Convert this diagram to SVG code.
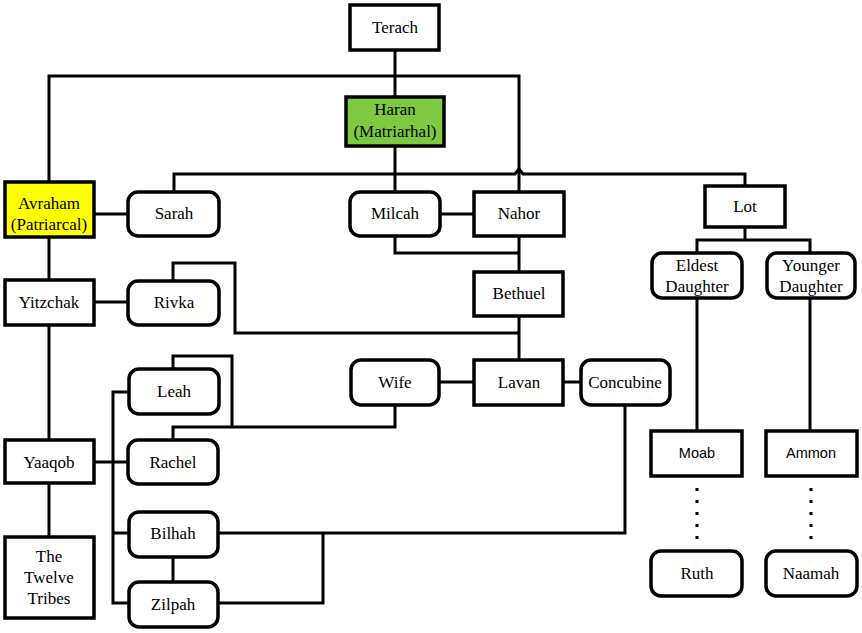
<svg xmlns="http://www.w3.org/2000/svg" width="862" height="633" viewBox="0 0 862 633">
<rect width="862" height="633" fill="#fff"/>
<g id="connectors" fill="none" stroke="#000" stroke-width="3">
<path d="M395,50 V97"/>
<path d="M49,182 V76 H519 V191"/>
<path d="M174,192 V174 H515 L519,169 L523,174 H745 V186"/>
<path d="M395,146 V192"/>
<path d="M94,214 H128"/>
<path d="M440,214 H474"/>
<path d="M395,236 V253 H519"/>
<path d="M519,237 V272"/>
<path d="M519,316 V360"/>
<path d="M173,281 V263 H235 V333 H519"/>
<path d="M49,237 V280"/>
<path d="M94,302 H128"/>
<path d="M49,325 V440"/>
<path d="M439,382 H474"/>
<path d="M563,382 H581"/>
<path d="M395,405 V427 H173 V440"/>
<path d="M173,369 V356 H232 V427"/>
<path d="M129,392 H113 V603 H129"/>
<path d="M94,462 H128"/>
<path d="M113,533 H129"/>
<path d="M173,557 V582"/>
<path d="M218,533 H625 V405"/>
<path d="M218,603 H323 V533"/>
<path d="M49,483 V537"/>
<path d="M745,227 V240"/>
<path d="M697,253 V240 H810 V253"/>
<path d="M697,298 V431"/>
<path d="M810,298 V431"/>
<path d="M697,488 V546" stroke-dasharray="3 9"/>
<path d="M811,488 V546" stroke-dasharray="3 9"/>
</g>
<g stroke="#000" stroke-width="3.5" fill="#fff">
<g id="terach"><rect x="350" y="5" width="89" height="45"/><text stroke="none" fill="#000" font-family="Liberation Serif" font-size="17" text-anchor="middle" x="395" y="33">Terach</text></g>
<g id="haran"><rect x="346" y="97" width="98" height="49" fill="#7dc940"/><text stroke="none" fill="#000" font-family="Liberation Serif" font-size="17" text-anchor="middle" x="395" y="115">Haran</text><text stroke="none" fill="#000" font-family="Liberation Serif" font-size="17" text-anchor="middle" x="395" y="137">(Matriarhal)</text></g>
<g id="avraham"><rect x="5" y="182" width="89" height="55" fill="#ffff00"/><text stroke="none" fill="#000" font-family="Liberation Serif" font-size="17" text-anchor="middle" x="49" y="209">Avraham</text><text stroke="none" fill="#000" font-family="Liberation Serif" font-size="17" text-anchor="middle" x="49" y="230">(Patriarcal)</text></g>
<g id="sarah"><rect x="128" y="192" width="91" height="44" rx="10"/><text stroke="none" fill="#000" font-family="Liberation Serif" font-size="17" text-anchor="middle" x="174" y="219">Sarah</text></g>
<g id="milcah"><rect x="350" y="192" width="90" height="44" rx="10"/><text stroke="none" fill="#000" font-family="Liberation Serif" font-size="17" text-anchor="middle" x="395" y="219">Milcah</text></g>
<g id="nahor"><rect x="474" y="192" width="90" height="44"/><text stroke="none" fill="#000" font-family="Liberation Serif" font-size="17" text-anchor="middle" x="519" y="219">Nahor</text></g>
<g id="lot"><rect x="705" y="186" width="80" height="41"/><text stroke="none" fill="#000" font-family="Liberation Serif" font-size="17" text-anchor="middle" x="745" y="212">Lot</text></g>
<g id="eldest"><rect x="652" y="253" width="90" height="45" rx="10"/><text stroke="none" fill="#000" font-family="Liberation Serif" font-size="17" text-anchor="middle" x="697" y="271">Eldest</text><text stroke="none" fill="#000" font-family="Liberation Serif" font-size="17" text-anchor="middle" x="697" y="292">Daughter</text></g>
<g id="younger"><rect x="767" y="253" width="88" height="45" rx="10"/><text stroke="none" fill="#000" font-family="Liberation Serif" font-size="17" text-anchor="middle" x="811" y="271">Younger</text><text stroke="none" fill="#000" font-family="Liberation Serif" font-size="17" text-anchor="middle" x="811" y="292">Daughter</text></g>
<g id="bethuel"><rect x="474" y="272" width="89" height="44"/><text stroke="none" fill="#000" font-family="Liberation Serif" font-size="17" text-anchor="middle" x="519" y="299">Bethuel</text></g>
<g id="yitzchak"><rect x="5" y="280" width="89" height="45"/><text stroke="none" fill="#000" font-family="Liberation Serif" font-size="17" text-anchor="middle" x="49" y="308">Yitzchak</text></g>
<g id="rivka"><rect x="128" y="281" width="91" height="44" rx="10"/><text stroke="none" fill="#000" font-family="Liberation Serif" font-size="17" text-anchor="middle" x="174" y="308">Rivka</text></g>
<g id="wife"><rect x="351" y="360" width="88" height="45" rx="10"/><text stroke="none" fill="#000" font-family="Liberation Serif" font-size="17" text-anchor="middle" x="395" y="388">Wife</text></g>
<g id="lavan"><rect x="474" y="360" width="89" height="45"/><text stroke="none" fill="#000" font-family="Liberation Serif" font-size="17" text-anchor="middle" x="519" y="388">Lavan</text></g>
<g id="concubine"><rect x="581" y="360" width="89" height="45" rx="10"/><text stroke="none" fill="#000" font-family="Liberation Serif" font-size="17" text-anchor="middle" x="625" y="388">Concubine</text></g>
<g id="leah"><rect x="129" y="369" width="90" height="45" rx="10"/><text stroke="none" fill="#000" font-family="Liberation Serif" font-size="17" text-anchor="middle" x="174" y="397">Leah</text></g>
<g id="yaaqob"><rect x="5" y="440" width="89" height="43"/><text stroke="none" fill="#000" font-family="Liberation Serif" font-size="17" text-anchor="middle" x="49" y="468">Yaaqob</text></g>
<g id="rachel"><rect x="128" y="440" width="90" height="44" rx="10"/><text stroke="none" fill="#000" font-family="Liberation Serif" font-size="17" text-anchor="middle" x="173" y="468">Rachel</text></g>
<g id="bilhah"><rect x="129" y="512" width="89" height="45" rx="10"/><text stroke="none" fill="#000" font-family="Liberation Serif" font-size="17" text-anchor="middle" x="173" y="539">Bilhah</text></g>
<g id="zilpah"><rect x="129" y="582" width="89" height="45" rx="10"/><text stroke="none" fill="#000" font-family="Liberation Serif" font-size="17" text-anchor="middle" x="173" y="610">Zilpah</text></g>
<g id="tribes"><rect x="5" y="537" width="89" height="81"/><text stroke="none" fill="#000" font-family="Liberation Serif" font-size="17" text-anchor="middle" x="49" y="562">The</text><text stroke="none" fill="#000" font-family="Liberation Serif" font-size="17" text-anchor="middle" x="49" y="583">Twelve</text><text stroke="none" fill="#000" font-family="Liberation Serif" font-size="17" text-anchor="middle" x="49" y="604">Tribes</text></g>
<g id="moab"><rect x="651" y="431" width="91" height="45"/><text stroke="none" fill="#000" font-family="Liberation Sans" font-size="14.5" text-anchor="middle" x="697" y="458">Moab</text></g>
<g id="ammon"><rect x="766" y="431" width="91" height="45"/><text stroke="none" fill="#000" font-family="Liberation Sans" font-size="14.5" text-anchor="middle" x="811" y="458">Ammon</text></g>
<g id="ruth"><rect x="651" y="551" width="91" height="45" rx="10"/><text stroke="none" fill="#000" font-family="Liberation Serif" font-size="17" text-anchor="middle" x="697" y="579">Ruth</text></g>
<g id="naamah"><rect x="766" y="551" width="91" height="45" rx="10"/><text stroke="none" fill="#000" font-family="Liberation Serif" font-size="17" text-anchor="middle" x="811" y="579">Naamah</text></g>
</g>
</svg>
